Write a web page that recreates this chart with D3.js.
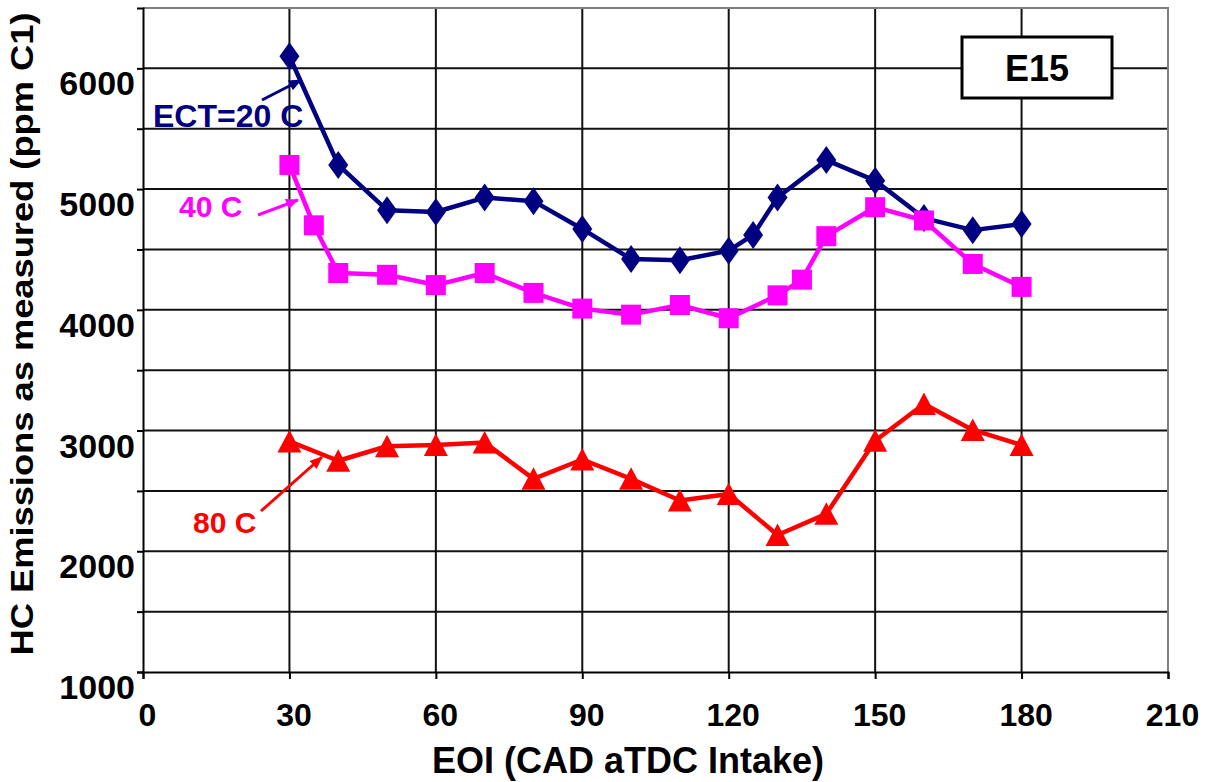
<!DOCTYPE html>
<html>
<head>
<meta charset="utf-8">
<script src="https://cdn.jsdelivr.net/npm/d3@7"></script>
<style>
  html, body { margin: 0; padding: 0; background: #ffffff; }
  svg { display: block; font-family: "Liberation Sans", Arial, Helvetica, sans-serif; font-weight: bold; }
</style>
</head>
<body>
<svg id="chart" width="1225" height="782"></svg>
<script>
// HC emissions vs end of injection, three coolant temperatures (E15 fuel)
const eoi20 = [30, 40, 50, 60, 70, 80, 90, 100, 110, 120, 125, 130, 140, 150, 160, 170, 180];
const hc20  = [6100, 5200, 4825, 4810, 4930, 4900, 4670, 4420, 4410, 4490, 4620, 4930, 5240, 5070, 4760, 4660, 4710];

const eoi40 = [30, 35, 40, 50, 60, 70, 80, 90, 100, 110, 120, 130, 135, 140, 150, 160, 170, 180];
const hc40  = [5200, 4700, 4305, 4290, 4205, 4305, 4140, 4010, 3960, 4040, 3930, 4120, 4250, 4610, 4850, 4740, 4380, 4190];

const eoi80 = [30, 40, 50, 60, 70, 80, 90, 100, 110, 120, 130, 140, 150, 160, 170, 180];
const hc80  = [2910, 2750, 2870, 2880, 2900, 2600, 2760, 2600, 2420, 2475, 2135, 2310, 2915, 3220, 3005, 2880];

const xTicks = [0, 30, 60, 90, 120, 150, 180, 210];
const yTicks = [1000, 1500, 2000, 2500, 3000, 3500, 4000, 4500, 5000, 5500, 6000, 6500];
const yLabelled = [1000, 2000, 3000, 4000, 5000, 6000];

const xTitle = "EOI (CAD aTDC Intake)";
const yTitle = "HC Emissions as measured (ppm C1)";
const boxLabel = "E15";

const series = [
  { name: "ECT=20 C", x: eoi20, y: hc20, color: "#000080", shape: "diamond" },
  { name: "40 C",     x: eoi40, y: hc40, color: "#FF00FF", shape: "square" },
  { name: "80 C",     x: eoi80, y: hc80, color: "#FF0000", shape: "triangle" }
];

const svg = d3.select("#chart");
const plot = { left: 143, right: 1168, top: 8, bottom: 672 };

const x = d3.scaleLinear().domain([0, 210]).range([plot.left, plot.right]);
const y = d3.scaleLinear().domain([1000, 6500]).range([plot.bottom, plot.top]);

// plot background
svg.append("rect")
  .attr("x", plot.left).attr("y", plot.top)
  .attr("width", plot.right - plot.left).attr("height", plot.bottom - plot.top)
  .attr("fill", "#ffffff");

// grid
const grid = svg.append("g").attr("stroke", "#111").attr("stroke-width", 2);
grid.selectAll("line.h").data(yTicks.filter(v => v > 1000 && v < 6500)).join("line")
  .attr("x1", plot.left).attr("x2", plot.right)
  .attr("y1", d => y(d)).attr("y2", d => y(d));
grid.selectAll("line.v").data(xTicks.filter(v => v > 0 && v < 210)).join("line")
  .attr("x1", d => x(d)).attr("x2", d => x(d))
  .attr("y1", plot.top).attr("y2", plot.bottom);

// top and right frame in grey
svg.append("path")
  .attr("d", `M${plot.left},${plot.top}H${plot.right}V${plot.bottom}`)
  .attr("fill", "none").attr("stroke", "#808080").attr("stroke-width", 2);

// axes
const yAxis = svg.append("g")
  .attr("transform", `translate(${plot.left},0)`)
  .call(d3.axisLeft(y).tickValues(yTicks.filter(v => v < 6500)).tickSize(6).tickPadding(2)
    .tickFormat(d => yLabelled.includes(d) ? String(d) : ""));
yAxis.select(".domain").attr("stroke", "#000").attr("stroke-width", 2);
yAxis.selectAll(".tick line").attr("stroke", "#000").attr("stroke-width", 2);
yAxis.selectAll(".tick text")
  .attr("fill", "#000").attr("font-size", 34).attr("font-weight", "bold")
  .attr("font-family", "'Liberation Sans', Arial, sans-serif")
  .attr("dy", "0.78em");

const xAxis = svg.append("g")
  .attr("transform", `translate(0,${plot.bottom})`)
  .call(d3.axisBottom(x).tickValues(xTicks).tickSize(7).tickPadding(24).tickFormat(d3.format("d")));
xAxis.select(".domain").attr("stroke", "#000").attr("stroke-width", 2);
xAxis.selectAll(".tick line").attr("stroke", "#000").attr("stroke-width", 2);
xAxis.selectAll(".tick text")
  .attr("fill", "#000").attr("font-size", 32).attr("font-weight", "bold")
  .attr("font-family", "'Liberation Sans', Arial, sans-serif")
  .attr("dx", 4);

// axis titles
svg.append("text")
  .attr("x", 628).attr("y", 773)
  .attr("text-anchor", "middle")
  .attr("font-size", 36).attr("fill", "#000")
  .text(xTitle);

svg.append("text")
  .attr("transform", "translate(33,334) rotate(-90)")
  .attr("text-anchor", "middle")
  .attr("font-size", 32).attr("fill", "#000")
  .attr("textLength", 643).attr("lengthAdjust", "spacingAndGlyphs")
  .text(yTitle);

// series lines and markers
const line = d3.line().x(d => x(d[0])).y(d => y(d[1]));
const shapes = {
  diamond: "M0,-14L10,0L0,14L-10,0Z",
  square: "M-10,-10H10V10H-10Z",
  triangle: "M0,-11.5L12,11L-12,11Z"
};

series.forEach(s => {
  const pts = s.x.map((v, i) => [v, s.y[i]]);
  const g = svg.append("g");
  g.append("path")
    .attr("d", line(pts))
    .attr("fill", "none")
    .attr("stroke", s.color)
    .attr("stroke-width", 4.5)
    .attr("stroke-linejoin", "round");
  g.selectAll("path.mk").data(pts).join("path")
    .attr("class", "mk")
    .attr("transform", d => `translate(${x(d[0])},${y(d[1])})`)
    .attr("d", shapes[s.shape])
    .attr("fill", s.color);
});

// callout labels with arrows
const defs = svg.append("defs");
series.forEach((s, i) => {
  defs.append("marker")
    .attr("id", "arrow" + i)
    .attr("markerUnits", "userSpaceOnUse")
    .attr("viewBox", "0 0 12 10")
    .attr("refX", 11).attr("refY", 5)
    .attr("markerWidth", 13).attr("markerHeight", 11)
    .attr("orient", "auto")
    .append("path").attr("d", "M0,0L12,5L0,10Z").attr("fill", s.color);
});

const callouts = [
  { text: series[0].name, tx: 153, ty: 127, size: 32, from: [262, 100], to: [301, 80] },
  { text: series[1].name, tx: 179, ty: 217, size: 30, from: [258, 215], to: [298, 200] },
  { text: series[2].name, tx: 193, ty: 533, size: 30, from: [261, 511], to: [322, 457] }
];
callouts.forEach((c, i) => {
  svg.append("line")
    .attr("x1", c.from[0]).attr("y1", c.from[1])
    .attr("x2", c.to[0]).attr("y2", c.to[1])
    .attr("stroke", series[i].color).attr("stroke-width", 3)
    .attr("marker-end", `url(#arrow${i})`);
  svg.append("text")
    .attr("x", c.tx).attr("y", c.ty)
    .attr("font-size", c.size).attr("fill", series[i].color)
    .text(c.text);
});

// fuel label box
svg.append("rect")
  .attr("x", 962).attr("y", 37).attr("width", 150).attr("height", 61)
  .attr("fill", "#ffffff").attr("stroke", "#000").attr("stroke-width", 3);
svg.append("text")
  .attr("x", 1037).attr("y", 81)
  .attr("text-anchor", "middle")
  .attr("font-size", 36).attr("fill", "#000")
  .text(boxLabel);
</script>
</body>
</html>
